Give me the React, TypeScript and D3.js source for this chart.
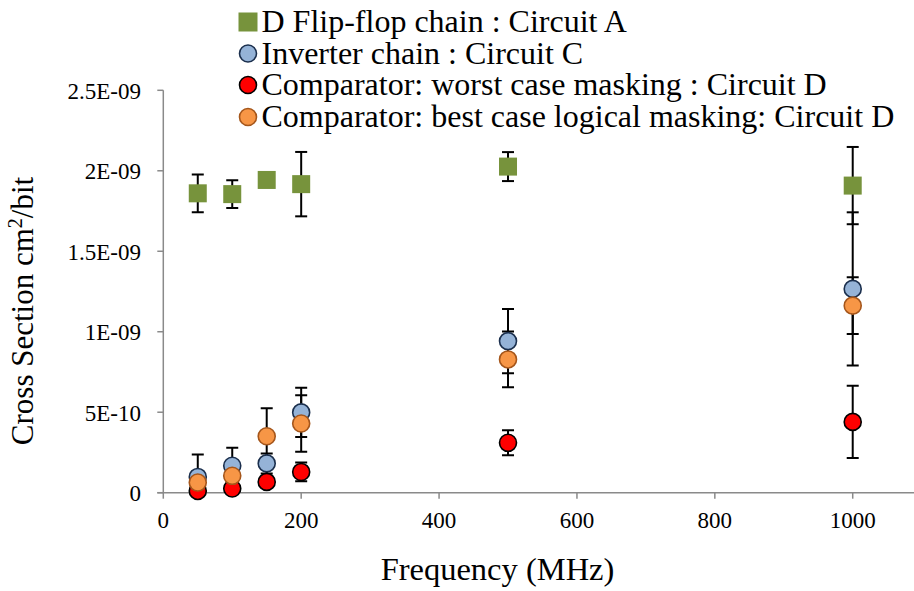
import React from 'react';
import * as d3 from 'd3';

// values in units of 1E-09 cm2/bit
const freqA = [50, 100, 150, 200, 500, 1000];
const flipFlopA = [1.86, 1.855, 1.943, 1.917, 2.026, 1.908];
const flipFlopAErr = [0.117, 0.086, 0.02, 0.2, 0.09, 0.24];

const freqC = [50, 100, 150, 200, 500, 1000];
const inverterC = [0.098, 0.167, 0.182, 0.499, 0.942, 1.266];
const inverterCErr = [0.14, 0.112, 0.062, 0.153, 0.2, 0.476];

const freqD = [50, 100, 150, 200, 500, 1000];
const worstD = [0.011, 0.026, 0.067, 0.129, 0.31, 0.44];
const worstDErr = [0.01, 0.012, 0.02, 0.058, 0.078, 0.225];

const bestD = [0.063, 0.105, 0.351, 0.43, 0.828, 1.162];
const bestDErr = [0.03, 0.03, 0.173, 0.176, 0.173, 0.176];

const xTicks = [0, 200, 400, 600, 800, 1000];
const yTicks = [0, 0.5, 1, 1.5, 2, 2.5];
const yTickLabels = ['0', '5E-10', '1E-09', '1.5E-09', '2E-09', '2.5E-09'];

const legendLabels = [
  'D Flip-flop chain : Circuit A',
  'Inverter chain : Circuit C',
  'Comparator: worst case masking : Circuit D',
  'Comparator: best case logical masking: Circuit D',
];

const FONT = 'Liberation Serif';
const width = 914;
const height = 591;
const axisColor = '#8a8a8a';

const xScale = d3.scaleLinear().domain([0, 1200]).range([163.3, 990.6]);
const yScale = d3.scaleLinear().domain([0, 2.5]).range([492.7, 90.3]);

const series = [
  { x: freqA, y: flipFlopA, err: flipFlopAErr, shape: 'square', fill: '#77933c', stroke: '#77933c' },
  { x: freqC, y: inverterC, err: inverterCErr, shape: 'circle', fill: '#95b3d7', stroke: '#1b2f4d' },
  { x: freqD, y: worstD, err: worstDErr, shape: 'circle', fill: '#ff0000', stroke: '#000000' },
  { x: freqD, y: bestD, err: bestDErr, shape: 'circle', fill: '#f79646', stroke: '#a5561b' },
];

const Marker = ({ s, cx, cy, size }: any) =>
  s.shape === 'square' ? (
    <rect x={cx - size / 2} y={cy - size / 2} width={size} height={size} fill={s.fill} />
  ) : (
    <circle cx={cx} cy={cy} r={8.5} fill={s.fill} stroke={s.stroke} strokeWidth={1.6} />
  );

const App = () => {
  const x0 = xScale(0);
  const y0 = yScale(0);
  const rowBase = [32, 63.5, 95, 127];

  return (
    <svg
      width={width}
      height={height}
      style={{ position: 'absolute', left: 0, top: 0, background: '#fff' }}
    >
      <defs>
        <clipPath id="plotClip">
          <rect x={x0} y={0} width={width - x0} height={y0} />
        </clipPath>
      </defs>

      {/* y axis */}
      <line x1={x0} x2={x0} y1={yScale(2.5)} y2={y0} stroke={axisColor} strokeWidth={1.5} />
      {yTicks.map((t, i) => (
        <g key={'y' + t}>
          <line x1={x0 - 6} x2={x0} y1={yScale(t)} y2={yScale(t)} stroke={axisColor} strokeWidth={1.5} />
          <text x={141} y={yScale(t)} dy="0.36em" textAnchor="end" fontFamily={FONT} fontSize={23}>
            {yTickLabels[i]}
          </text>
        </g>
      ))}

      {/* x axis */}
      <line x1={x0 - 6} x2={width} y1={y0} y2={y0} stroke={axisColor} strokeWidth={1.5} />
      {xTicks.map(t => (
        <g key={'x' + t}>
          <line x1={xScale(t)} x2={xScale(t)} y1={y0} y2={y0 + 6} stroke={axisColor} strokeWidth={1.5} />
          <text x={xScale(t)} y={528} textAnchor="middle" fontFamily={FONT} fontSize={23}>
            {t}
          </text>
        </g>
      ))}

      {/* axis titles */}
      <text x={497.5} y={580} textAnchor="middle" fontFamily={FONT} fontSize={32.5}>
        Frequency (MHz)
      </text>
      <text transform="translate(33, 311) rotate(-90)" textAnchor="middle" fontFamily={FONT} fontSize={31}>
        <tspan>Cross Section cm</tspan>
        <tspan dy={-11} fontSize={20}>2</tspan>
        <tspan dy={11}>/bit</tspan>
      </text>

      {/* error bars */}
      <g clipPath="url(#plotClip)" stroke="#000" strokeWidth={2}>
        {series.map((s, si) =>
          s.x.map((xv, i) => {
            const cx = xScale(xv);
            const top = yScale(s.y[i] + s.err[i]);
            const bot = yScale(s.y[i] - s.err[i]);
            return (
              <g key={si + '-' + i}>
                <line x1={cx} x2={cx} y1={top} y2={bot} />
                <line x1={cx - 6} x2={cx + 6} y1={top} y2={top} />
                <line x1={cx - 6} x2={cx + 6} y1={bot} y2={bot} />
              </g>
            );
          })
        )}
      </g>

      {/* markers */}
      {series.map((s, si) =>
        s.x.map((xv, i) => (
          <Marker key={'m' + si + '-' + i} s={s} cx={xScale(xv)} cy={yScale(s.y[i])} size={18} />
        ))
      )}

      {/* legend */}
      {series.map((s, i) => (
        <g key={'l' + i}>
          <Marker s={s} cx={248} cy={rowBase[i] - 10} size={19} />
          <text x={261.5} y={rowBase[i]} fontFamily={FONT} fontSize={32}>
            {legendLabels[i]}
          </text>
        </g>
      ))}
    </svg>
  );
};

export default App;
